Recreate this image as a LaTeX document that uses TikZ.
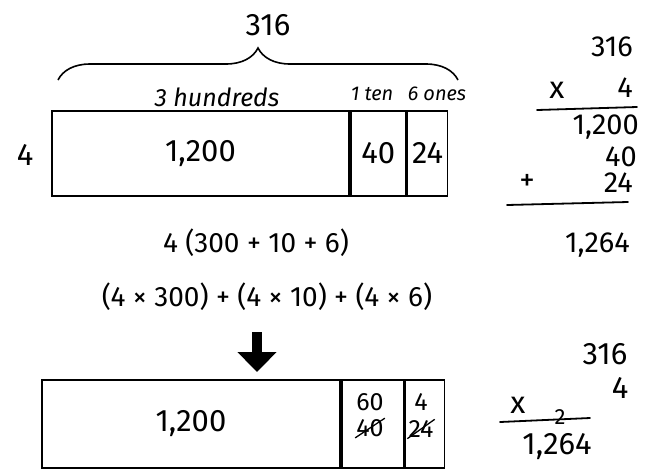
\documentclass[tikz,border=0pt]{standalone}
\usepackage{fontspec}
\setmainfont{Fira Sans}
\usetikzlibrary{positioning, decorations.pathreplacing, arrows.meta}

\tikzset{
  cell/.style={draw, line width=1.8pt, anchor=north west, inner sep=0pt,
    font=\fontsize{31}{36}\selectfont},
  big/.style={font=\fontsize{31}{36}\selectfont},
  col/.style={font=\fontsize{29}{33}\selectfont, inner sep=0pt, anchor=east},
  mid/.style={font=\fontsize{28}{32}\selectfont},
  small/.style={font=\fontsize{25}{30}\selectfont},
  lbl/.style={font=\fontsize{20}{24}\selectfont\itshape},
  rule/.style={line width=1.8pt, line cap=round},
  strike/.style={line width=1.3pt},
}

\begin{document}
\begin{tikzpicture}[x=1pt, y=-1pt]
\useasboundingbox (0,0) rectangle (647,475);

    % Top area model: 4 x 316
    \node[cell, minimum width=297pt, minimum height=85pt] (hundA) at (51,110) {1,200};
    \node[cell, minimum width=55pt, minimum height=85pt] (tenA) at (hundA.north east) {40};
    \node[cell, minimum width=40pt, minimum height=85pt] (oneA) at (tenA.north east) {24};
    \node[big] (sideA) at (25,155) {4};

    % Brace and place value labels
    \draw[line width=1.6pt, decorate, decoration={brace, amplitude=32pt}] (58,80) -- (458,80);
    \node[big] (topnum) at (268,25) {316};
    \node[lbl, font=\fontsize{25}{30}\selectfont\itshape] (hlbl) at (217,97) {3 hundreds};
    \node[lbl] (tlbl) at (372,94) {1 ten};
    \node[lbl] (olbl) at (437,94) {6 ones};

    % Distributive expressions
    \node[mid] (eqA) at (256,243) {4 (300 + 10 + 6)};
    \node[mid] (eqB) at (267,297) {(4 × 300) + (4 × 10) + (4 × 6)};

    % Arrow down to the regrouped model
    \coordinate (arrtop) at (257,332);
    \coordinate (arrtip) at (257,372);
    \draw[line width=10pt, -{Triangle[width=38pt, length=20pt]}] (arrtop) -- (arrtip);

    % Bottom area model after regrouping
    \node[cell, minimum width=298pt, minimum height=88pt] (hundB) at (41,379) {1,200};
    \node[cell, minimum width=62pt, minimum height=88pt] (tenB) at (hundB.north east) {};
    \node[cell, minimum width=39pt, minimum height=88pt] (oneB) at (tenB.north east) {};
    \node[small] (tenNew) at (370,402) {60};
    \node[small, inner sep=1pt] (tenOld) at (370,428) {40};
    \node[small] (oneNew) at (421,402) {4};
    \node[small, inner sep=1pt] (oneOld) at (421,429) {24};
    \draw[strike] (tenOld.south west) -- (tenOld.north east);
    \draw[strike] (oneOld.south west) -- (oneOld.north east);

    % Partial products algorithm
    \node[col] (pA1) at (633,47) {316};
    \node[big] (pAx) at (557,90) {x};
    \node[col] (pA2) at (633,88) {4};
    \draw[rule] (537,110) -- (637,107);
    \node[col] (pA3) at (639,127) {1,200};
    \node[col] (pA4) at (637,157) {40};
    \node[big] (pAplus) at (527,182) {+};
    \node[col] (pA5) at (633,183) {24};
    \draw[rule] (507,205) -- (628,202);
    \node[col] (pA6) at (630,245) {1,264};

    % Standard algorithm
    \node[big] (pB1) at (605,354) {316};
    \node[big] (pB2) at (620,388) {4};
    \node[big] (pBx) at (518,405) {x};
    \draw[rule] (500,422) -- (590,418);
    \node[font=\fontsize{22}{26}\selectfont] (carry) at (560,417) {2};
    \node[big] (pB3) at (557,447) {1,264};

\end{tikzpicture}
\end{document}
